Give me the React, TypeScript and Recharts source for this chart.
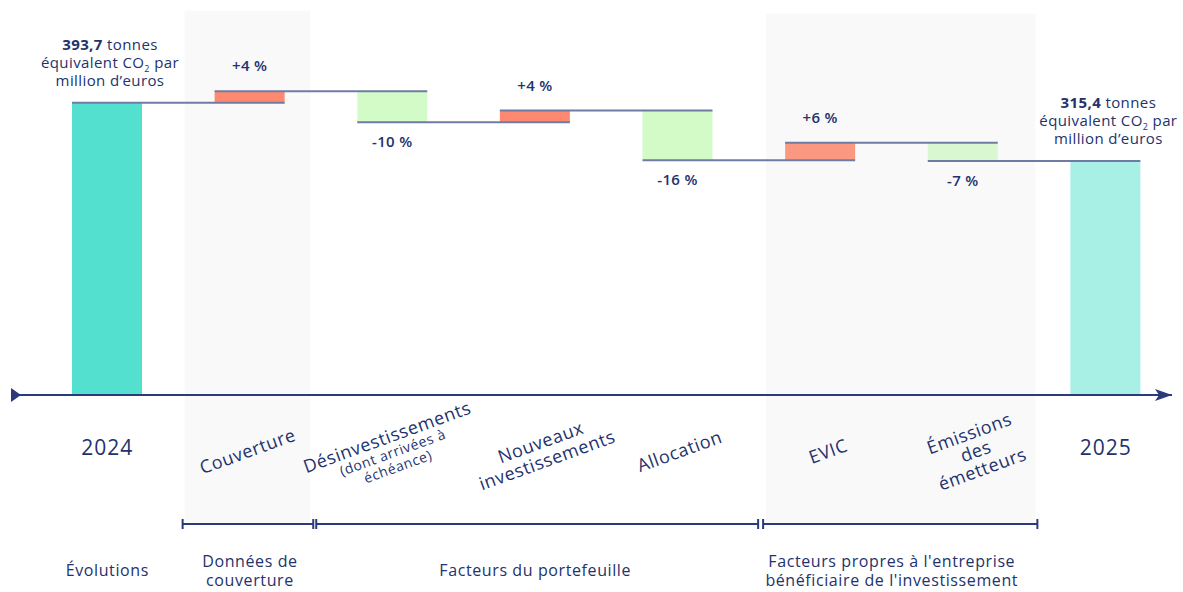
import React from 'react';
import { BarChart, Bar, XAxis, YAxis, ReferenceArea } from 'recharts';

// ---- data ----
const CATEGORIES = [
  '2024',
  'Couverture',
  'Désinvestissements',
  'Nouveaux investissements',
  'Allocation',
  'EVIC',
  'Émissions des émetteurs',
  '2025',
];
const START_VALUE = 393.7;
const END_VALUE = 315.4;
const DELTAS = [15.7, -41.8, 15.7, -67.0, 23.8, -24.7];
const DELTA_LABELS = ['+4 %', '-10 %', '+4 %', '-16 %', '+6 %', '-7 %'];

const TICK_LINES = [
  ['2024'],
  ['Couverture'],
  ['Désinvestissements', '(dont arrivées à', 'échéance)'],
  ['Nouveaux', 'investissements'],
  ['Allocation'],
  ['EVIC'],
  ['Émissions', 'des', 'émetteurs'],
  ['2025'],
];

const GROUP_LABELS = [
  ['Évolutions'],
  ['Données de', 'couverture'],
  ['Facteurs du portefeuille'],
  ["Facteurs propres à l'entreprise", "bénéficiaire de l'investissement"],
];
const GROUP_SPANS = [[0, 0], [1, 1], [2, 4], [5, 6]];
const GROUP_BRACKET = [false, true, true, true];

// ---- layout / styles ----
const W = 1183;
const H = 592;
const FONT = '"Open Sans", sans-serif';
const NAVY = '#23326d';
const AXIS = '#2b3a7a';
const CONNECTOR = '#6f7ba3';
const SHADE = '#f9f9f9';
const BAR_COLORS = ['#54e0cf', '#ff8970', '#d3fbc8', '#ff8970', '#d3fbc8', '#fa9882', '#d9f8d2', '#a8efe5'];
const TICK_DX = [0, -2, 0, 9, 2, 8, 13, 0];
const GROUP_INSETS = [[0, 0], [4, 8], [-5, -9], [14, -3]];

const MARGIN = { top: 24, right: 11, bottom: 17, left: 12 };
const PAD = { left: 24, right: -5 };
const RANGE_W = W - MARGIN.left - MARGIN.right - PAD.left - PAD.right;
const STEP = RANGE_W / CATEGORIES.length;

// build waterfall rows
const levels: number[] = [START_VALUE];
DELTAS.forEach((d) => levels.push(levels[levels.length - 1] + d));

const data = CATEGORIES.map((name, i) => {
  if (i === 0) return { name, idx: i, base: 0, value: START_VALUE, kind: 'total', label: '' };
  if (i === CATEGORIES.length - 1) return { name, idx: i, base: 0, value: END_VALUE, kind: 'total', label: '' };
  const before = levels[i - 1];
  const after = levels[i];
  return {
    name,
    idx: i,
    base: Math.min(before, after),
    value: Math.abs(after - before),
    kind: after > before ? 'up' : 'down',
    label: DELTA_LABELS[i - 1],
  };
});

const fmt = (v: number) => v.toFixed(1).replace('.', ',');

const BaseShape = (props: any) => {
  const { x, y, width, height } = props;
  if (!height || height <= 0) return <g />;
  return <line x1={x} x2={x + width} y1={y + height} y2={y + height} stroke="#1c1c1c" strokeWidth={2} />;
};

const ValueShape = (props: any) => {
  const { x, y, width, height, payload } = props;
  const i = payload.idx;
  const cx = x + width / 2;
  const ly = payload.kind === 'up' ? y + height : y;
  const pct = { textAnchor: 'middle' as const, fontSize: 15, fontWeight: 600, fill: NAVY, fontFamily: FONT, letterSpacing: 0.3 };
  return (
    <g>
      <rect x={x} y={y} width={width} height={height} fill={BAR_COLORS[i]} />
      {i > 0 && (
        <line x1={x - STEP} x2={x + width} y1={ly} y2={ly} stroke={CONNECTOR} strokeWidth={2} />
      )}
      {payload.kind === 'up' && (
        <text x={cx} y={y - 20} {...pct}>{payload.label}</text>
      )}
      {payload.kind === 'down' && (
        <text x={cx} y={y + height + 25} {...pct}>{payload.label}</text>
      )}
      {payload.kind === 'total' && (
        <text x={cx + 3} textAnchor="middle" fontSize={15} fill={NAVY} fontFamily={FONT} letterSpacing={0.4}>
          <tspan x={cx + 3} y={y - 53}>
            <tspan fontWeight={700}>{fmt(payload.value)}</tspan> tonnes
          </tspan>
          <tspan x={cx + 3} y={y - 35}>
            équivalent CO<tspan fontSize={9} dy={4}>2</tspan>
            <tspan dy={-4}> par</tspan>
          </tspan>
          <tspan x={cx + 3} y={y - 17}>million d’euros</tspan>
        </text>
      )}
    </g>
  );
};

const CategoryTick = (props: any) => {
  const { x, y, payload } = props;
  const i = CATEGORIES.indexOf(payload.value);
  const lines = TICK_LINES[i] || [payload.value];
  const isYear = i === 0 || i === CATEGORIES.length - 1;

  const groupIdx = GROUP_SPANS.findIndex((s) => s[0] === i);
  let group = null;
  if (groupIdx >= 0) {
    const [from, to] = GROUP_SPANS[groupIdx];
    const gx = x + ((to - from) / 2) * STEP;
    const bx1 = x - STEP / 2 + GROUP_INSETS[groupIdx][0];
    const bx2 = x + (to - from) * STEP + STEP / 2 - GROUP_INSETS[groupIdx][1];
    const by = y + 129;
    const gl = GROUP_LABELS[groupIdx];
    const gy = y + 176 - ((gl.length - 1) * 19) / 2 + 5;
    group = (
      <g>
        {GROUP_BRACKET[groupIdx] && (
          <g stroke={AXIS} strokeWidth={2}>
            <line x1={bx1} x2={bx2} y1={by} y2={by} />
            <line x1={bx1} x2={bx1} y1={by - 5} y2={by + 5} />
            <line x1={bx2} x2={bx2} y1={by - 5} y2={by + 5} />
          </g>
        )}
        <text textAnchor="middle" fontSize={16} fill={NAVY} fontFamily={FONT} letterSpacing={0.6}>
          {gl.map((t, k) => (
            <tspan key={k} x={gx} y={gy + k * 19}>{t}</tspan>
          ))}
        </text>
      </g>
    );
  }

  let label;
  const lx = x + TICK_DX[i];
  if (isYear) {
    label = (
      <text x={lx} y={y + 60} textAnchor="middle" fontSize={21} fontWeight={500} fill={NAVY} fontFamily={FONT} letterSpacing={1}>
        {lines[0]}
      </text>
    );
  } else {
    const sizes = lines.map((_, k) => (i === 2 && k > 0 ? 14 : 18));
    const lhs = sizes.map((s) => s + 1);
    const total = lhs.reduce((a, b) => a + b, 0);
    let acc = -total / 2;
    label = (
      <g transform={`translate(${lx},${y + 57}) rotate(-20)`}>
        <text textAnchor="middle" fill={NAVY} fontFamily={FONT} letterSpacing={0.6}>
          {lines.map((t, k) => {
            acc += lhs[k];
            return (
              <tspan key={k} x={0} y={acc - 4} fontSize={sizes[k]}>{t}</tspan>
            );
          })}
        </text>
      </g>
    );
  }

  return (
    <g>
      {label}
      {group}
    </g>
  );
};

const shadeShape = (insetL: number, insetR: number) => (p: any) => (
  <rect x={p.x + insetL} y={p.y} width={p.width - insetL - insetR} height={p.height} fill={SHADE} />
);

export default function App() {
  return (
    <div style={{ position: 'absolute', left: 0, top: 0, width: W, height: H, background: '#fff' }}>
      <svg width={0} height={0} style={{ position: 'absolute' }}>
        <defs>
          <marker id="axStart" markerUnits="userSpaceOnUse" markerWidth={11} markerHeight={14} refX={1} refY={7} orient="auto">
            <path d="M0,0 L10,7 L0,14 z" fill={AXIS} />
          </marker>
          <marker id="axEnd" markerUnits="userSpaceOnUse" markerWidth={18} markerHeight={12} refX={17} refY={6} orient="auto">
            <path d="M0,0 L17,6 L0,12 L4,6 z" fill={AXIS} />
          </marker>
        </defs>
      </svg>
      <BarChart width={W} height={H} data={data} margin={MARGIN} barSize={70}>
        <ReferenceArea x1="Couverture" x2="Couverture" y1={-172} y2={518} ifOverflow="visible" shape={shadeShape(6, 11)} />
        <ReferenceArea x1="EVIC" x2="Émissions des émetteurs" y1={-172} y2={514} ifOverflow="visible" shape={shadeShape(17, -1)} />
        <XAxis
          dataKey="name"
          height={180}
          padding={PAD}
          interval={0}
          tickLine={false}
          tickSize={0}
          tickMargin={0}
          axisLine={{ stroke: AXIS, strokeWidth: 2, markerStart: 'url(#axStart)', markerEnd: 'url(#axEnd)' }}
          tick={<CategoryTick />}
        />
        <YAxis hide domain={[0, 500]} />
        <Bar dataKey="base" stackId="w" fill="transparent" shape={<BaseShape />} isAnimationActive={false} />
        <Bar dataKey="value" stackId="w" shape={<ValueShape />} isAnimationActive={false} />
      </BarChart>
    </div>
  );
}
